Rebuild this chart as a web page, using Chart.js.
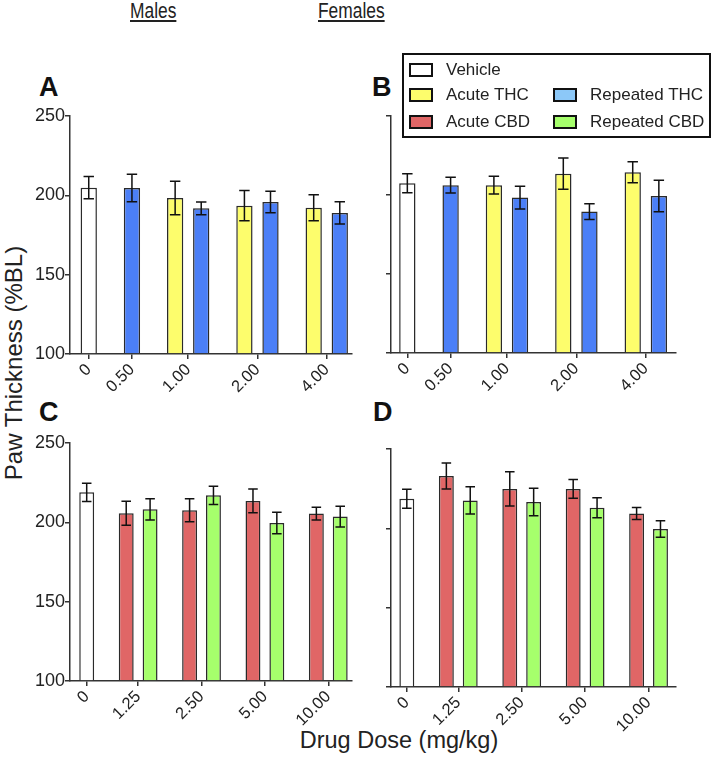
<!DOCTYPE html>
<html>
<head>
<meta charset="utf-8">
<script src="https://cdn.jsdelivr.net/npm/chart.js@4.4.1/dist/chart.umd.min.js"></script>
<style>
  body { margin: 0; width: 714px; height: 757px; background: #fff; position: relative; overflow: hidden;
         font-family: "Liberation Sans", Arial, sans-serif; color: #222; }
  canvas { position: absolute; left: 0; top: 0; }
  .t { position: absolute; white-space: nowrap; line-height: 1; }
  .head { font-size: 22px; text-decoration: underline; top: 0; transform: scaleX(0.79); transform-origin: left top; }
  .letter { font-size: 27px; font-weight: bold; color: #111; }
  #legend { position: absolute; left: 402px; top: 53px; width: 305px; height: 81px; border: 2px solid #111; }
  .item { position: absolute; height: 20px; display: flex; align-items: center; font-size: 17px; }
  .sw { width: 20px; height: 10px; border: 2.5px solid #111; margin-right: 13px; }
</style>
</head>
<body>
<div class="t head" style="left:130px">Males</div>
<div class="t head" style="left:318px">Females</div>

<div class="t letter" style="left:39px; top:74px">A</div>
<div class="t letter" style="left:372px; top:74px">B</div>
<div class="t letter" style="left:39px; top:399px">C</div>
<div class="t letter" style="left:373px; top:399px">D</div>

<div class="t" style="left:14px; top:363px; font-size:24px; transform: translate(-50%, -50%) rotate(-90deg);">Paw Thickness (%BL)</div>
<div class="t" style="left:399px; top:729px; font-size:23.5px; transform: translateX(-50%);">Drug Dose (mg/kg)</div>

<canvas id="chartA" width="714" height="757"></canvas>
<canvas id="chartB" width="714" height="757"></canvas>
<canvas id="chartC" width="714" height="757"></canvas>
<canvas id="chartD" width="714" height="757"></canvas>

<div id="legend">
  <div class="item" style="left:5px; top:5px"><div class="sw" style="background:#ffffff"></div>Vehicle</div>
  <div class="item" style="left:5px; top:30px"><div class="sw" style="background:#fdfd6c"></div>Acute THC</div>
  <div class="item" style="left:5px; top:57px"><div class="sw" style="background:#e06666"></div>Acute CBD</div>
  <div class="item" style="left:149px; top:30px"><div class="sw" style="background:#8cc8f8"></div>Repeated THC</div>
  <div class="item" style="left:149px; top:57px"><div class="sw" style="background:#a6ff6c"></div>Repeated CBD</div>
</div>

<script>
const thcDoses = ['0', '0.50', '1.00', '2.00', '4.00'];
const cbdDoses = ['0', '1.25', '2.50', '5.00', '10.00'];
const yTicks = [100, 150, 200, 250];

// A - males, THC
const maleThcVehicle = [204.8, null, null, null, null];
const maleThcVehicleSem = [7, null, null, null, null];
const maleAcuteThc = [null, null, 198.3, 193.5, 192.2];
const maleAcuteThcSem = [null, null, 10.5, 9.5, 8.2];
const maleRepeatedThc = [null, 204.6, 191.8, 195.8, 188.9];
const maleRepeatedThcSem = [null, 8.7, 4, 6.7, 7];

// B - females, THC
const femaleThcVehicle = [207.5, null, null, null, null];
const femaleThcVehicleSem = [6, null, null, null, null];
const femaleAcuteThc = [null, null, 206.2, 213.5, 214.4];
const femaleAcuteThcSem = [null, null, 5.6, 9.9, 6.7];
const femaleRepeatedThc = [null, 206.2, 198.4, 189.5, 199.4];
const femaleRepeatedThcSem = [null, 5, 7.2, 5, 10];

// C - males, CBD
const maleCbdVehicle = [218.9, null, null, null, null];
const maleCbdVehicleSem = [5.8, null, null, null, null];
const maleAcuteCbd = [null, 205.7, 207.6, 213.5, 205.5];
const maleAcuteCbdSem = [null, 7.6, 7.3, 7.5, 4];
const maleRepeatedCbd = [null, 208.2, 217.0, 199.6, 203.6];
const maleRepeatedCbdSem = [null, 6.7, 5.7, 6.8, 6.5];

// D - females, CBD
const femaleCbdVehicle = [218.7, null, null, null, null];
const femaleCbdVehicleSem = [6, null, null, null, null];
const femaleAcuteCbd = [null, 233.0, 224.8, 224.8, 209.3];
const femaleAcuteCbdSem = [null, 8.2, 10.8, 5.9, 3.8];
const femaleRepeatedCbd = [null, 217.6, 216.6, 213.0, 199.6];
const femaleRepeatedCbdSem = [null, 8.6, 8.6, 6.3, 5.2];

const colors = {
  vehicle: '#ffffff',
  acuteThc: '#fdfd6c',
  repeatedThc: '#4b7ff7',
  acuteCbd: '#e06666',
  repeatedCbd: '#a6ff6c'
};

const W = 714, H = 757;
const YW = 40, XH = 60;
// bar layout in bar-width units
const INNER = 0.6, OUTER = 1.65;
const axisColor = '#333';
const fontFamily = '"Liberation Sans", Arial, sans-serif';

// draws the sem whiskers on top of the bars
const errorBars = {
  id: 'errorBars',
  afterDatasetsDraw(chart) {
    const ctx = chart.ctx;
    const ys = chart.scales.y;
    ctx.save();
    ctx.strokeStyle = '#111';
    ctx.lineWidth = 1.5;
    chart.data.datasets.forEach((ds, di) => {
      const meta = chart.getDatasetMeta(di);
      meta.data.forEach((bar, i) => {
        const p = ds.data[i];
        const top = ys.getPixelForValue(p.y + p.e);
        const bot = ys.getPixelForValue(p.y - p.e);
        const cap = bar.width * 0.32;
        ctx.beginPath();
        ctx.moveTo(bar.x, top); ctx.lineTo(bar.x, bot);
        ctx.moveTo(bar.x - cap, top); ctx.lineTo(bar.x + cap, top);
        ctx.moveTo(bar.x - cap, bot); ctx.lineTo(bar.x + cap, bot);
        ctx.stroke();
      });
    });
    ctx.restore();
  }
};

function makePanel(id, doses, series, box, pads, showY) {
  let cur = pads[0];
  const tickVals = [];
  const pts = series.map(() => []);
  doses.forEach((d, i) => {
    const start = cur;
    let first = true;
    series.forEach((s, k) => {
      if (s.values[i] == null) return;
      if (!first) cur += INNER;
      pts[k].push({ x: cur + 0.5, y: s.values[i], e: s.sem[i] });
      cur += 1;
      first = false;
    });
    tickVals.push((start + cur) / 2);
    if (i < doses.length - 1) cur += OUTER;
  });
  const xMax = cur + pads[1];

  new Chart(document.getElementById(id), {
    type: 'bar',
    data: {
      datasets: series.map((s, k) => ({
        data: pts[k],
        backgroundColor: s.color,
        borderColor: '#2a2a2a',
        borderWidth: 1.5,
        borderSkipped: 'start',
        base: 100,
        grouped: false,
        categoryPercentage: 1,
        barPercentage: 1 / (1 + INNER)
      }))
    },
    options: {
      responsive: false,
      animation: false,
      events: [],
      layout: { padding: { left: box.l - YW, top: box.t, right: W - box.r, bottom: H - box.b - XH } },
      plugins: { legend: { display: false }, tooltip: { enabled: false } },
      scales: {
        x: {
          type: 'linear',
          min: 0,
          max: xMax,
          offset: false,
          afterBuildTicks: sc => { sc.ticks = tickVals.map(v => ({ value: v })); },
          afterFit: sc => { sc.height = XH; },
          grid: { offset: false, drawOnChartArea: false, drawTicks: true, tickLength: 5, color: axisColor, lineWidth: 1.5 },
          border: { color: axisColor, width: 1.5 },
          ticks: {
            autoSkip: false, minRotation: 45, maxRotation: 45, padding: 1, color: '#222',
            font: { family: fontFamily, size: 16.5 },
            callback: (v, i) => doses[i]
          }
        },
        y: {
          min: 100,
          max: 250,
          afterBuildTicks: sc => { sc.ticks = yTicks.map(v => ({ value: v })); },
          afterFit: sc => { sc.width = YW; },
          grid: { drawOnChartArea: false, drawTicks: true, tickLength: 5, color: axisColor, lineWidth: 1.5 },
          border: { color: axisColor, width: 1.5 },
          ticks: { display: showY, padding: 0, color: '#222', font: { family: fontFamily, size: 18 } }
        }
      }
    },
    plugins: [errorBars]
  });
}

makePanel('chartA', thcDoses, [
  { values: maleThcVehicle, sem: maleThcVehicleSem, color: colors.vehicle },
  { values: maleAcuteThc, sem: maleAcuteThcSem, color: colors.acuteThc },
  { values: maleRepeatedThc, sem: maleRepeatedThcSem, color: colors.repeatedThc }
], { l: 70, r: 352, t: 116, b: 354 }, [0.65, 0.25], true);

makePanel('chartB', thcDoses, [
  { values: femaleThcVehicle, sem: femaleThcVehicleSem, color: colors.vehicle },
  { values: femaleAcuteThc, sem: femaleAcuteThcSem, color: colors.acuteThc },
  { values: femaleRepeatedThc, sem: femaleRepeatedThcSem, color: colors.repeatedThc }
], { l: 391, r: 676, t: 116, b: 353 }, [0.5, 0.55], false);

makePanel('chartC', cbdDoses, [
  { values: maleCbdVehicle, sem: maleCbdVehicleSem, color: colors.vehicle },
  { values: maleAcuteCbd, sem: maleAcuteCbdSem, color: colors.acuteCbd },
  { values: maleRepeatedCbd, sem: maleRepeatedCbdSem, color: colors.repeatedCbd }
], { l: 70, r: 352, t: 443, b: 681 }, [0.62, 0.29], true);

makePanel('chartD', cbdDoses, [
  { values: femaleCbdVehicle, sem: femaleCbdVehicleSem, color: colors.vehicle },
  { values: femaleAcuteCbd, sem: femaleAcuteCbdSem, color: colors.acuteCbd },
  { values: femaleRepeatedCbd, sem: femaleRepeatedCbdSem, color: colors.repeatedCbd }
], { l: 391, r: 676, t: 449, b: 687 }, [0.56, 0.54], false);
</script>
</body>
</html>
